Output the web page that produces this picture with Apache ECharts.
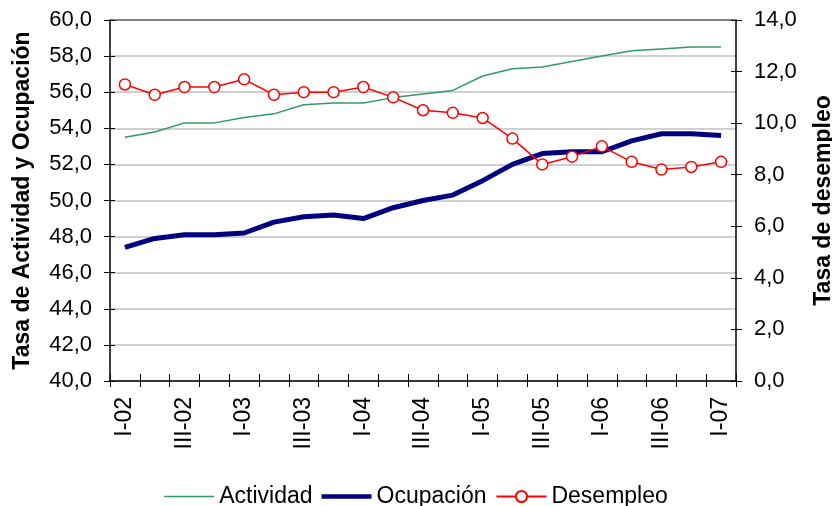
<!DOCTYPE html>
<html>
<head>
<meta charset="utf-8">
<script src="https://cdn.jsdelivr.net/npm/echarts@6/dist/echarts.min.js"></script>
<style>
  html, body { margin: 0; padding: 0; background: #fff; }
  #chart { width: 832px; height: 506px; }
</style>
</head>
<body>
<div id="chart"></div>
<script>
// trimestres I-02 .. I-07
var categories = [
  'I-02', 'II-02', 'III-02', 'IV-02',
  'I-03', 'II-03', 'III-03', 'IV-03',
  'I-04', 'II-04', 'III-04', 'IV-04',
  'I-05', 'II-05', 'III-05', 'IV-05',
  'I-06', 'II-06', 'III-06', 'IV-06',
  'I-07'
];
var actividad = [53.5, 53.8, 54.3, 54.3, 54.6, 54.8, 55.3, 55.4, 55.4, 55.7, 55.9, 56.1, 56.9, 57.3, 57.4, 57.7, 58.0, 58.3, 58.4, 58.5, 58.5];
var ocupacion = [47.4, 47.9, 48.1, 48.1, 48.2, 48.8, 49.1, 49.2, 49.0, 49.6, 50.0, 50.3, 51.1, 52.0, 52.6, 52.7, 52.7, 53.3, 53.7, 53.7, 53.6];
var desempleo = [11.5, 11.1, 11.4, 11.4, 11.7, 11.1, 11.2, 11.2, 11.4, 11.0, 10.5, 10.4, 10.2, 9.4, 8.4, 8.7, 9.1, 8.5, 8.2, 8.3, 8.5];

var font = 'Liberation Sans';
function coma(v) { return v.toFixed(1).replace('.', ','); }

var nameStyle = { fontSize: 23, fontWeight: 'bold', color: '#000', fontFamily: font };
var labelStyle = { fontSize: 22, color: '#000', fontFamily: font, margin: 18 };

// ejes extra solo para las marcas hacia dentro
function innerY(pos, min, max) {
  return {
    type: 'value', position: pos, min: min, max: max, interval: 2,
    axisLine: { show: false },
    axisTick: { show: true, inside: true, length: 5, lineStyle: { color: '#000' } },
    axisLabel: { show: false },
    splitLine: { show: false }
  };
}

var chart = echarts.init(document.getElementById('chart'));
chart.setOption({
  animation: false,
  textStyle: { fontFamily: font, color: '#000' },
  grid: { left: 110, right: 96, top: 20, bottom: 125, containLabel: false, outerBoundsMode: 'none' },
  legend: {
    top: 480,
    left: 'center',
    itemWidth: 50,
    itemHeight: 14,
    itemGap: 9,
    textStyle: { fontFamily: font, fontSize: 23, color: '#000' },
    data: [
      { name: 'Actividad', icon: 'path://M0,0H50V1.5H0Z' },
      { name: 'Ocupación', icon: 'path://M0,0H50V4.5H0Z' },
      { name: 'Desempleo' }
    ]
  },
  xAxis: [
    {
      type: 'category',
      data: categories,
      boundaryGap: true,
      axisLine: { lineStyle: { color: '#000', width: 1.5 } },
      axisTick: { show: true, interval: 0, length: 6, lineStyle: { color: '#000' } },
      axisLabel: Object.assign({ interval: 1, rotate: 90 }, labelStyle, { fontSize: 23, margin: 16 })
    },
    {
      type: 'category',
      data: categories,
      position: 'bottom',
      boundaryGap: true,
      axisLine: { show: false },
      axisTick: { show: true, inside: true, interval: 0, length: 7, lineStyle: { color: '#000' } },
      axisLabel: { show: false }
    },
    {
      type: 'category',
      data: categories,
      position: 'top',
      axisLine: { show: true, lineStyle: { color: '#808080', width: 2 } },
      axisTick: { show: false },
      axisLabel: { show: false }
    }
  ],
  yAxis: [
    {
      type: 'value',
      min: 40,
      max: 60,
      interval: 2,
      name: 'Tasa de Actividad y Ocupación',
      nameLocation: 'middle',
      nameGap: 76,
      nameRotate: 90,
      nameTextStyle: nameStyle,
      axisLine: { show: true, lineStyle: { color: '#000', width: 1.5 } },
      axisTick: { show: true, length: 6, lineStyle: { color: '#000' } },
      axisLabel: Object.assign({ formatter: coma }, labelStyle),
      splitLine: { show: true, lineStyle: { color: '#c0c0c0', width: 1.5 } }
    },
    {
      type: 'value',
      min: 0,
      max: 14,
      interval: 2,
      name: 'Tasa de desempleo',
      nameLocation: 'middle',
      nameGap: 76,
      nameRotate: 90,
      nameTextStyle: nameStyle,
      axisLine: { show: true, lineStyle: { color: '#000', width: 1.5 } },
      axisTick: { show: true, length: 6, lineStyle: { color: '#000' } },
      axisLabel: Object.assign({ formatter: coma }, labelStyle),
      splitLine: { show: false }
    },
    innerY('left', 40, 60),
    innerY('right', 0, 14)
  ],
  series: [
    {
      name: 'Actividad',
      type: 'line',
      yAxisIndex: 0,
      data: actividad,
      symbol: 'none',
      itemStyle: { color: '#339966' },
      lineStyle: { color: '#339966', width: 1.5 }
    },
    {
      name: 'Ocupación',
      type: 'line',
      yAxisIndex: 0,
      data: ocupacion,
      symbol: 'none',
      itemStyle: { color: '#000080' },
      lineStyle: { color: '#000080', width: 5 }
    },
    {
      name: 'Desempleo',
      type: 'line',
      yAxisIndex: 1,
      data: desempleo,
      symbol: 'circle',
      symbolSize: 11,
      itemStyle: { color: '#fff', borderColor: '#ff0000', borderWidth: 1.5 },
      lineStyle: { color: '#ff0000', width: 1.5 },
      z: 3
    }
  ]
});
</script>
</body>
</html>
